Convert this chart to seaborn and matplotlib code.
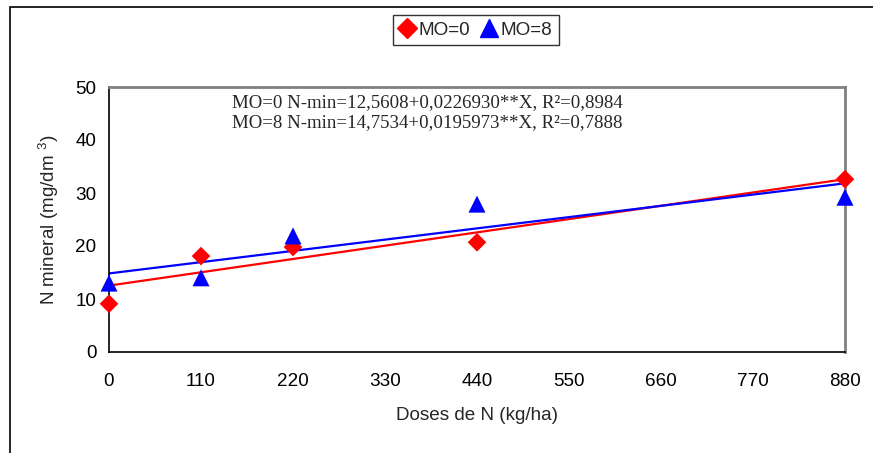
import numpy as np
import pandas as pd
import matplotlib
matplotlib.use("Agg")
import matplotlib.pyplot as plt
import seaborn as sns
from matplotlib.lines import Line2D
from matplotlib.patches import Rectangle

# data
doses = [0, 110, 220, 440, 880]
n_mo0 = [9.1, 18.1, 19.8, 20.7, 32.6]
n_mo8 = [13.0, 14.0, 21.9, 27.9, 29.2]
series = ["MO=0", "MO=8"]
eq_labels = [
    "MO=0 N-min=12,5608+0,0226930**X, R²=0,8984",
    "MO=8 N-min=14,7534+0,0195973**X, R²=0,7888",
]
x_ticks = [0, 110, 220, 330, 440, 550, 660, 770, 880]
y_ticks = [0, 10, 20, 30, 40, 50]

df = pd.DataFrame({
    "dose": doses * 2,
    "nmin": n_mo0 + n_mo8,
    "MO": [series[0]] * len(doses) + [series[1]] * len(doses),
})

sns.set_style("white")
plt.rcParams["font.family"] = ["Liberation Sans", "DejaVu Sans"]
plt.rcParams["mathtext.fontset"] = "custom"
plt.rcParams["mathtext.rm"] = "Liberation Sans"
plt.rcParams["mathtext.it"] = "Liberation Sans"

colors = {"MO=0": "#ff0000", "MO=8": "#0000ff"}
markers = {"MO=0": "D", "MO=8": "^"}
sizes = {"MO=0": 90, "MO=8": 150}
fs = 13.6

fig = plt.figure(figsize=(8.73, 4.53), dpi=100)
ax = fig.add_axes([109 / 873, 1 - 352 / 453, 736 / 873, 265 / 453])

# outer frame (left and top edges visible)
fig.patches.append(Rectangle((10 / 873, -0.1), 1.2, 1 - 7 / 453 + 0.1,
                             transform=fig.transFigure, fill=False,
                             edgecolor="black", linewidth=1.2, zorder=0))

for name in series:
    sub = df[df["MO"] == name]
    sns.regplot(data=sub, x="dose", y="nmin", ax=ax, scatter=False, ci=None,
                color=colors[name], line_kws={"linewidth": 1.6, "zorder": 2})

for name in series:
    sub = df[df["MO"] == name]
    sns.scatterplot(data=sub, x="dose", y="nmin", color=colors[name],
                    marker=markers[name], s=sizes[name], edgecolor="none",
                    legend=False, ax=ax, zorder=3, clip_on=False)

ax.set_xlim(0, 880)
ax.set_ylim(0, 50)
ax.set_xticks(x_ticks)
ax.set_yticks(y_ticks)
ax.tick_params(axis="both", direction="out", length=5, width=1, colors="black",
               labelsize=fs, pad=4)
ax.tick_params(axis="x", pad=10)
for side in ["left", "bottom"]:
    ax.spines[side].set_color("black")
    ax.spines[side].set_linewidth(1.2)
for side in ["top", "right"]:
    ax.spines[side].set_color("#808080")
    ax.spines[side].set_linewidth(2)

ax.set_xlabel("Doses de N (kg/ha)", fontsize=fs, labelpad=12)
ax.set_ylabel(r"N mineral (mg/dm $^{3}$)", fontsize=fs, labelpad=10)

for i, txt in enumerate(eq_labels):
    ax.text(232 / 873, 1 - (107 + 20 * i) / 453, txt, transform=fig.transFigure,
            family=["Liberation Serif", "DejaVu Serif"], fontsize=fs,
            va="baseline", ha="left")

handles = [Line2D([], [], linestyle="none", marker=markers[n], color=colors[n],
                  markersize=10 if n == "MO=0" else 13) for n in series]
leg = fig.legend(handles, series, loc="center", bbox_to_anchor=(476 / 873, 1 - 30 / 453),
                 ncol=2, frameon=True, fancybox=False, fontsize=fs,
                 handlelength=0.8, handletextpad=0.2, columnspacing=0.6,
                 borderpad=0.35, borderaxespad=0)
leg.get_frame().set_edgecolor("black")
leg.get_frame().set_linewidth(1)

fig.savefig("out.png", dpi=100)
